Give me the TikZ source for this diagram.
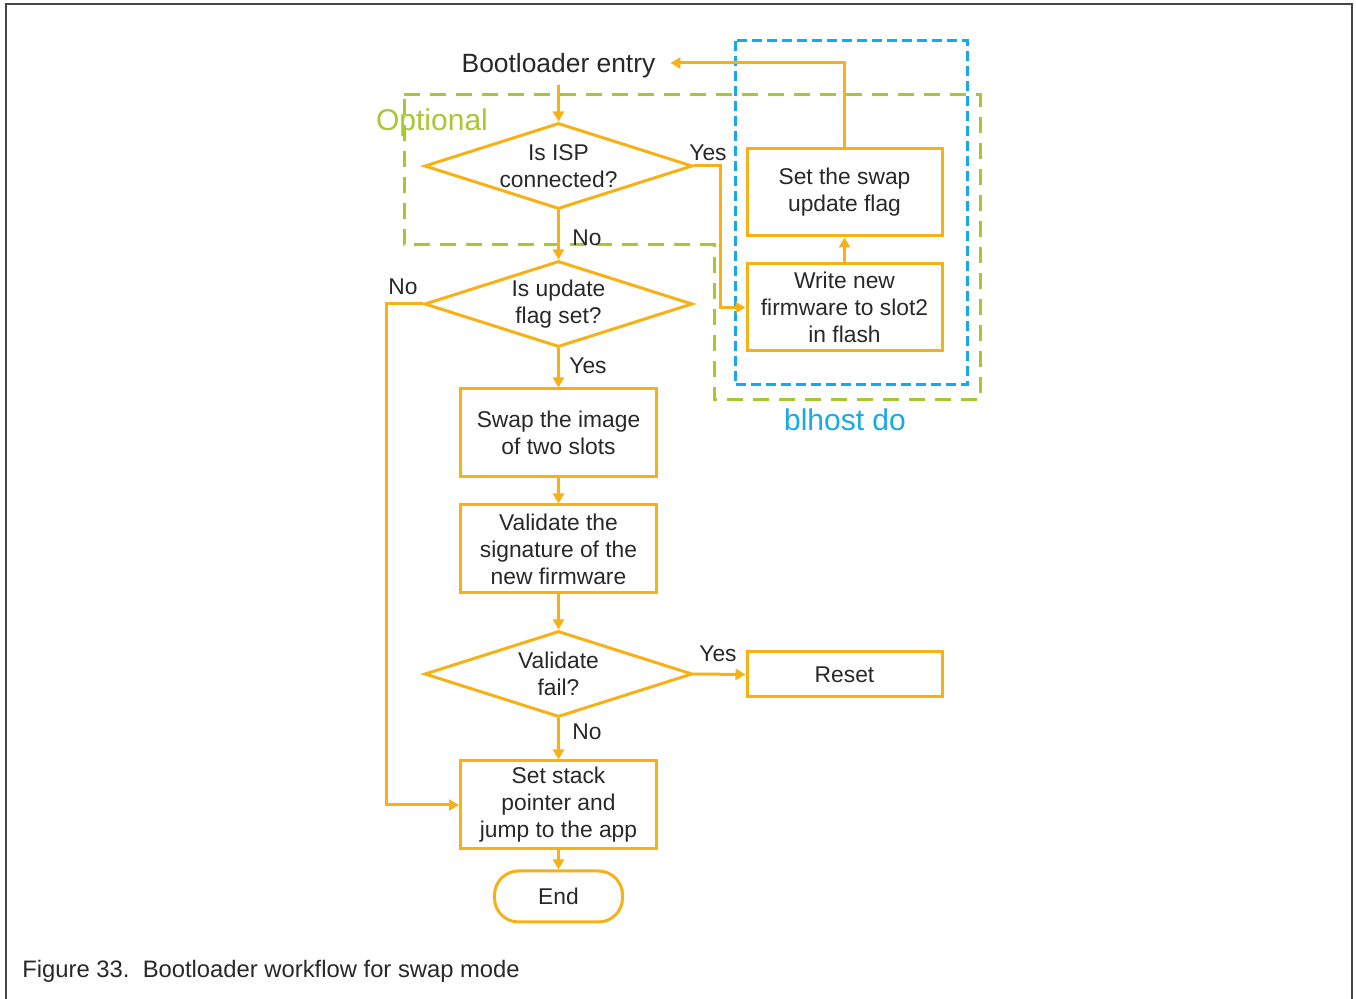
\documentclass[tikz,border=0pt]{standalone}
\usepackage{fontspec}
\setmainfont{Liberation Sans}
\usetikzlibrary{shapes.geometric,arrows.meta}
\definecolor{org}{RGB}{247,176,22}
\definecolor{grn}{RGB}{166,200,50}
\definecolor{blu}{RGB}{25,168,232}
\definecolor{txt}{RGB}{40,40,40}
\definecolor{frm}{RGB}{70,70,70}
\newcommand\bodyfont{\fontsize{11.4}{13.5}\selectfont}
\begin{document}
\begin{tikzpicture}[x=0.5pt,y=-0.5pt,
  box/.style={draw=org,line width=1.5pt,minimum width=98pt,minimum height=44pt,align=center,inner sep=0pt,text=txt,font=\bodyfont},
  dec/.style={diamond,draw=org,line width=1.5pt,minimum width=134pt,minimum height=43pt,aspect=3,inner sep=0pt,align=center,text=txt,font=\bodyfont},
  lbl/.style={text=txt,font=\bodyfont,inner sep=0pt},
  arr/.style={draw=org,line width=1.5pt,-{Triangle[length=5pt,width=5.5pt]}},
  gdash/.style={draw=grn,line width=1.5pt,dash pattern=on 8pt off 5pt},
  bdash/.style={draw=blu,line width=1.5pt,dash pattern=on 5pt off 2.5pt}]
\useasboundingbox (0,0) rectangle (1356,999);
% frame
\draw[frm,line width=1pt] (6,999) -- (6,4) -- (1352,4) -- (1352,999);
% region boxes
\draw[gdash] (404,95) -- (980,95) -- (980,400) -- (714,400) -- (714,245) -- (404,245) -- cycle;
\node[text=grn,font=\fontsize{15}{17}\selectfont,inner sep=0pt] (opt) at (432,123) {Optional};
\node[text=blu,font=\fontsize{15}{17}\selectfont,inner sep=0pt] (blh) at (845,420) {blhost do};
% nodes
\node[text=txt,font=\fontsize{13.2}{15}\selectfont] (entry) at (558.5,66) {Bootloader entry};
\node[dec] (d1) at (558.5,166) {Is ISP\\connected?};
\node[dec] (d2) at (558.5,304) {Is update\\flag set?};
\node[box] (swap) at (558.5,433) {Swap the image\\of two slots};
\node[box] (valid) at (558.5,549) {Validate the\\signature of the\\new firmware};
\node[dec] (d3) at (558.5,674) {Validate\\fail?};
\node[box] (stack) at (558.5,805) {Set stack\\pointer and\\jump to the app};
\node[box,minimum width=64pt,minimum height=25.5pt,rounded corners=12pt] (end) at (558.5,896.5) {End};
\node[box,minimum width=97.5pt,minimum height=43.5pt] (setf) at (844.5,192.5) {Set the swap\\update flag};
\node[box,minimum width=97.5pt,minimum height=43.5pt] (write) at (844.5,307.5) {Write new\\firmware to slot2\\in flash};
\node[box,minimum width=97.5pt,minimum height=22.5pt] (reset) at (844.5,674.5) {Reset};
\draw[bdash] (735,41) rectangle (967,385);
% connectors
\draw[arr] (entry.south) -- (d1.north);
\draw[arr] (d1.south) -- (d2.north);
\draw[arr] (d1.east) -- ++(26,0) |- (write.west);
\draw[arr] (write.north) -- (setf.south);
\draw[arr,shorten >=4pt] (setf.north) |- ([yshift=1.5pt]entry.east);
\draw[arr] (d2.west) -- ++(-37,0) |- (stack.west);
\draw[arr] (d2.south) -- (swap.north);
\draw[arr] (swap.south) -- (valid.north);
\draw[arr] (valid.south) -- (d3.north);
\draw[arr] (d3.east) -- (reset.west);
\draw[arr] (d3.south) -- (stack.north);
\draw[arr] (stack.south) -- (end.north);
% labels
\node[lbl] (l1) at (708,153) {Yes};
\node[lbl] (l2) at (587,238) {No};
\node[lbl] (l3) at (403,287) {No};
\node[lbl] (l4) at (588,366) {Yes};
\node[lbl] (l5) at (718,654) {Yes};
\node[lbl] (l6) at (587,732) {No};
% caption
\node[anchor=west,text=txt,font=\fontsize{11.9}{14}\selectfont,inner sep=0pt] (cap) at (22,971) {Figure 33.\ \ Bootloader workflow for swap mode};
\end{tikzpicture}
\end{document}
